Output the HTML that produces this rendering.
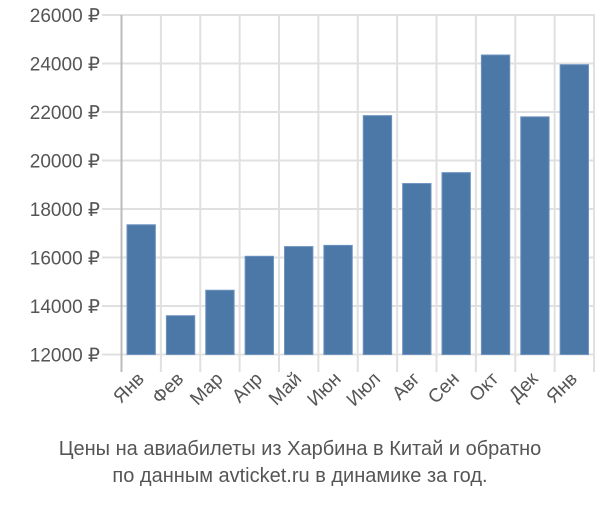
<!DOCTYPE html>
<html><head><meta charset="utf-8"><style>
body{margin:0;background:#fff}
svg text{font-family:"Liberation Sans",sans-serif;fill:#555}
</style></head><body>
<svg width="600" height="500">
<g id="grid"></g>
<g id="bars"></g>
<g id="labels"></g>
<line x1="121.5" y1="15" x2="121.5" y2="372" stroke="#bbb" stroke-width="2"/>
<text x="300" y="455" text-anchor="middle" font-size="20">Цены на авиабилеты из Харбина в Китай и обратно</text>
<text x="300" y="482" text-anchor="middle" font-size="20">по данным avticket.ru в динамике за год.</text>
</svg>
<script>
const categories=["Янв","Фев","Мар","Апр","Май","Июн","Июл","Авг","Сен","Окт","Дек","Янв"];
const values=[17350,13600,14650,16050,16450,16500,21850,19050,19500,24350,21800,23950];
const ticks=[12000,14000,16000,18000,20000,22000,24000,26000];
const tickLabels=["12000 ₽","14000 ₽","16000 ₽","18000 ₽","20000 ₽","22000 ₽","24000 ₽","26000 ₽"];
const NS="http://www.w3.org/2000/svg";
const y0=354.5,y1=15,vmin=12000,vmax=26000;
const x0=121.5,x1=594,band=(x1-x0)/categories.length;
const Y=v=>y0-(v-vmin)/(vmax-vmin)*(y0-y1);
const X=i=>x0+i*band;
function mk(tag,attrs,parent){const e=document.createElementNS(NS,tag);for(const k in attrs)e.setAttribute(k,attrs[k]);document.getElementById(parent).appendChild(e);return e;}
ticks.forEach((t,i)=>{
 const l=mk("line",{x1:102,x2:595,y1:Y(t),y2:Y(t),stroke:"#e0e0e0","stroke-width":2},"grid");
 
 
 const tx=mk("text",{x:100,y:Y(t)+7,"text-anchor":"end","font-size":19},"labels");
 tx.textContent=tickLabels[i];
 
 
});
for(let i=1;i<=categories.length;i++){
 const l=mk("line",{x1:X(i),x2:X(i),y1:15,y2:372,stroke:"#e0e0e0","stroke-width":2},"grid");
 
 
}
categories.forEach((c,i)=>{
 const r=mk("rect",{x:X(i)+5.5,y:Y(values[i]),width:band-11,height:y0-Y(values[i]),fill:"#4c78a8",stroke:"#6d93bf","stroke-width":1},"bars");
 
 
 const cx=X(i)+band/2+4,cy=380;
 const t=mk("text",{x:cx,y:cy,"text-anchor":"end","font-size":19,transform:`rotate(-45 ${cx} ${cy})`},"labels");
 t.textContent=c;
 
 
});
</script>
</body></html>
